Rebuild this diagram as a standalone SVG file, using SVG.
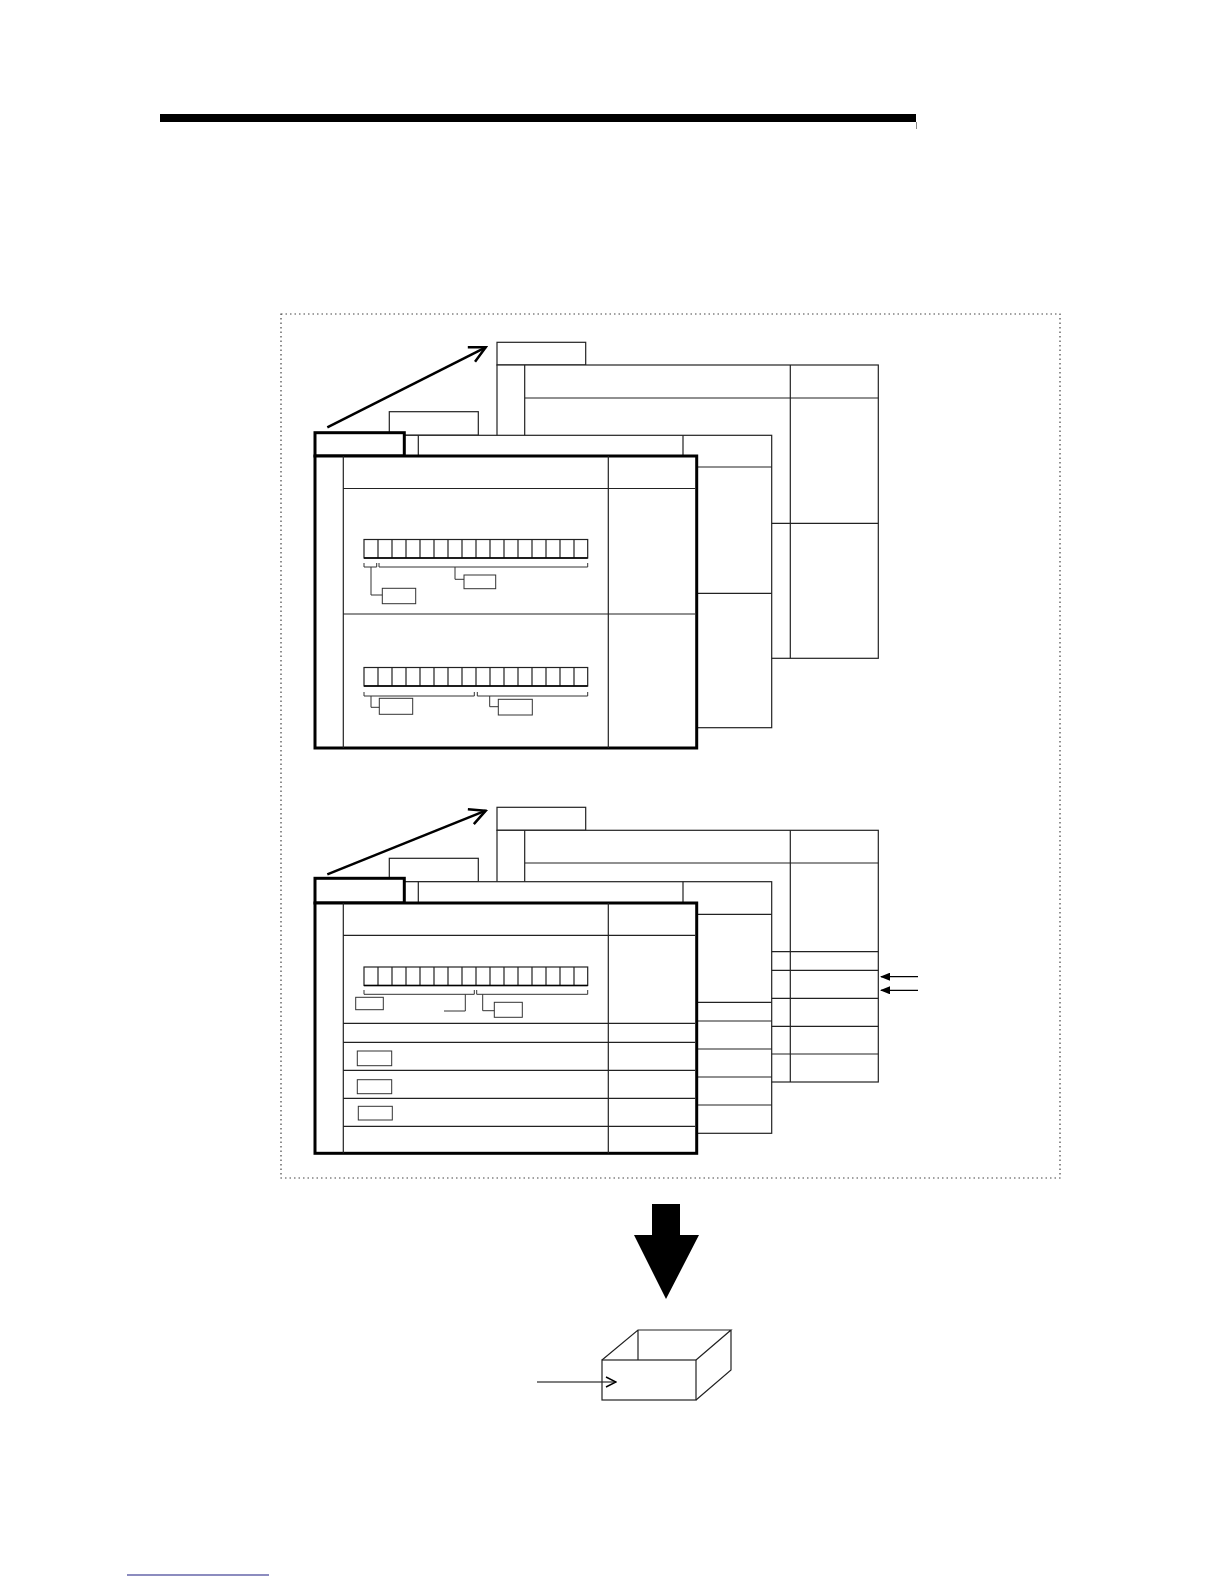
<svg xmlns="http://www.w3.org/2000/svg" width="1224" height="1584" viewBox="0 0 1224 1584">
<style>
.t{fill:none;stroke:#222;stroke-width:1.2}
.w{fill:#fff;stroke:#222;stroke-width:1.2}
.k{fill:#fff;stroke:#000;stroke-width:3}
.kl{fill:none;stroke:#000;stroke-width:3}
.a{fill:none;stroke:#000;stroke-width:2.5}
.c{fill:none;stroke:#333;stroke-width:1}
</style>
<defs>
<marker id="open" viewBox="0 0 12 12" refX="11" refY="6" markerWidth="12" markerHeight="12" markerUnits="userSpaceOnUse" orient="auto">
<path d="M1,1 L11,6 L1,11" fill="none" stroke="#000" stroke-width="1.4"/>
</marker>
<marker id="openBig" viewBox="0 0 20 20" refX="18" refY="10" markerWidth="20" markerHeight="20" markerUnits="userSpaceOnUse" orient="auto">
<path d="M2,2 L18,10 L2,18" fill="none" stroke="#000" stroke-width="2.5"/>
</marker>
<marker id="fill" viewBox="0 0 10 8" refX="9" refY="4" markerWidth="10" markerHeight="8" markerUnits="userSpaceOnUse" orient="auto">
<path d="M0,0 L10,4 L0,8 Z" fill="#000"/>
</marker>
<g id="reg">
<rect x="0" y="0" width="223.7" height="18.5" class="t"/>
<path class="t" d="M14 0V18.5M28 0V18.5M42 0V18.5M56 0V18.5M70 0V18.5M84 0V18.5M98 0V18.5M112 0V18.5M126 0V18.5M140 0V18.5M154 0V18.5M168 0V18.5M182 0V18.5M196 0V18.5M210 0V18.5"/>
<path d="M0 18.5H223.7" stroke="#000" stroke-width="1.6"/>
</g>
</defs>

<g id="header-bar">
<rect x="160" y="114" width="756" height="8" fill="#000"/>
<line x1="916.5" y1="122" x2="916.5" y2="129" stroke="#888" stroke-width="1"/>
</g>

<g id="frame">
<rect x="281" y="314" width="779" height="864" fill="none" stroke="#444" stroke-width="1.2" stroke-dasharray="1.5,3"/>
</g>

<!-- Upper group -->
<g id="upper-back">
<rect x="497" y="342.3" width="88.7" height="22.7" class="w"/>
<rect x="497" y="365" width="381.3" height="293.3" class="w"/>
<path class="t" d="M524.7 365V658.3M524.7 398H878.3M790.3 365V658.3M524.7 523.3H878.3"/>
</g>
<g id="upper-middle">
<rect x="389.3" y="411.7" width="89" height="23.5" class="w"/>
<rect x="389.3" y="435.3" width="382.4" height="292.4" class="w"/>
<path class="t" d="M418.3 435.3V727.7M683 435.3V727.7M418.3 467H771.7M418.3 593.3H771.7"/>
</g>
<g id="upper-front">
<rect x="315" y="432.7" width="89.3" height="23.3" class="k"/>
<rect x="315" y="456" width="381.7" height="292" class="k"/>
<path class="t" d="M343.3 456V748M608.3 456V748M343.3 488.5H695M343.3 614H695"/>
<use href="#reg" x="364" y="539.5"/>
<path class="c" d="M364 563V567H376.7V563M379 563V567H587.7V563"/>
<path class="c" d="M371 567V595H382.3M455 567V579.3H464"/>
<rect x="382.3" y="588.3" width="33.4" height="15.4" class="c"/>
<rect x="464" y="575" width="31.7" height="13.7" class="c"/>
<use href="#reg" x="364" y="667.5"/>
<path class="c" d="M364 692V696H474.3V692M477.3 692V696H587.7V692"/>
<path class="c" d="M371 696V707.3H379.3M489.7 696V706.7H498.3"/>
<rect x="379.3" y="698.3" width="33.4" height="16" class="c"/>
<rect x="498.3" y="699.3" width="34" height="15.7" class="c"/>
</g>

<!-- Lower group -->
<g id="lower-back">
<rect x="497" y="807.3" width="88.7" height="23" class="w"/>
<rect x="497" y="830.3" width="381.3" height="251.7" class="w"/>
<path class="t" d="M524.7 830.3V1082M524.7 863H878.3M790.3 830.3V1082M524.7 951.7H878.3M524.7 970.3H878.3M524.7 998.3H878.3M524.7 1026.3H878.3M524.7 1054H878.3"/>
</g>
<g id="lower-middle">
<rect x="389.3" y="858.3" width="89" height="23.4" class="w"/>
<rect x="389.3" y="881.7" width="382.4" height="251.6" class="w"/>
<path class="t" d="M418.3 881.7V1133.3M683 881.7V1133.3M418.3 914.3H771.7M418.3 1002.3H771.7M418.3 1021H771.7M418.3 1049H771.7M418.3 1077H771.7M418.3 1105H771.7"/>
</g>
<g id="lower-front">
<rect x="315" y="878.3" width="89.3" height="24.7" class="k"/>
<rect x="315" y="903" width="381.7" height="250.3" class="k"/>
<path class="t" d="M343.3 903V1153.3M608.3 903V1153.3M343.3 935.3H695M343.3 1023.3H695M343.3 1042.3H695M343.3 1070.3H695M343.3 1098.3H695M343.3 1126.3H695"/>
<use href="#reg" x="364" y="967"/>
<path class="c" d="M364 990V994.3H474.3V990M476.7 990V994.3H587.7V990"/>
<path class="c" d="M465.3 994.3V1011H444M482.7 994.3V1010.7H494.3"/>
<rect x="355.7" y="997.3" width="27.6" height="12.4" class="c"/>
<rect x="494.3" y="1002.3" width="28" height="15" class="c"/>
<rect x="357.3" y="1051" width="34.4" height="14.7" class="c"/>
<rect x="357.3" y="1079.7" width="34.4" height="14" class="c"/>
<rect x="358.3" y="1106.3" width="34" height="13.7" class="c"/>
</g>

<g id="connectors">
<line x1="327.3" y1="427.3" x2="485.7" y2="347.3" class="a" marker-end="url(#openBig)"/>
<line x1="327.3" y1="874.3" x2="485.7" y2="810.7" class="a" marker-end="url(#openBig)"/>
<line x1="918" y1="976.7" x2="881" y2="976.7" stroke="#000" stroke-width="1.2" marker-end="url(#fill)"/>
<line x1="918" y1="990.3" x2="881" y2="990.3" stroke="#000" stroke-width="1.2" marker-end="url(#fill)"/>
<polygon id="big-arrow" points="652,1204 680,1204 680,1235 699,1235 666,1299 634,1235 652,1235" fill="#000"/>
<line x1="537" y1="1382" x2="616" y2="1382" stroke="#000" stroke-width="1.2" marker-end="url(#open)"/>
</g>

<g id="box">
<path class="t" d="M602 1360L638 1330H731L696 1360M638 1330V1360M731 1330V1370L696 1400"/>
<rect x="602" y="1360" width="94" height="40" class="t"/>
</g>

<g id="footer">
<line x1="127" y1="1575" x2="269" y2="1575" stroke="#1a1a80" stroke-width="1.2"/>
</g>
</svg>
